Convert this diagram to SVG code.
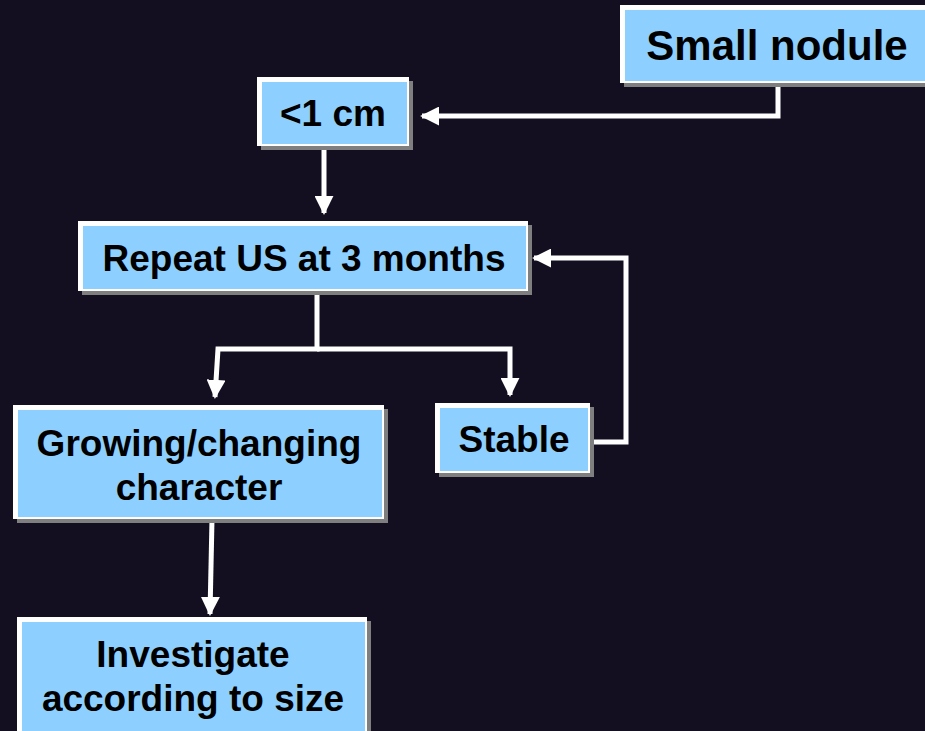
<svg xmlns="http://www.w3.org/2000/svg" width="925" height="731" viewBox="0 0 925 731">
<style>
.shadow{fill:#7f7f7f}
.edge{fill:#ffffff}
.face{fill:#8dd0ff}
.lbl{font-family:"Liberation Sans",Arial,sans-serif;font-weight:bold;font-size:37px;fill:#000;text-anchor:middle}
.conn{fill:none;stroke:#ffffff;stroke-width:5;stroke-linejoin:miter}
</style>
<defs>
<marker id="ah" viewBox="0 0 10 10" refX="9" refY="5" markerWidth="19" markerHeight="19" markerUnits="userSpaceOnUse" orient="auto">
<path d="M0,0 L10,5 L0,10 Z" fill="#ffffff"/>
</marker>
</defs>
<rect width="925" height="731" fill="#130f21"/>

<g id="connectors">
<polyline class="conn" points="778,83 778,116 422,116" marker-end="url(#ah)"/>
<line class="conn" x1="324" y1="146" x2="324" y2="213" marker-end="url(#ah)"/>
<polyline class="conn" points="317,291 317,349 218,349 215,397" marker-end="url(#ah)"/>
<polyline class="conn" points="317,349 510,349 510,395" marker-end="url(#ah)"/>
<polyline class="conn" points="590,442 626,442 626,258 534,258" marker-end="url(#ah)"/>
<line class="conn" x1="212" y1="519" x2="210" y2="614" marker-end="url(#ah)"/>
</g>

<g id="small-nodule">
<rect class="shadow" x="624" y="9" width="310" height="78"/>
<rect class="edge" x="620" y="5" width="310" height="78"/>
<rect class="face" x="625" y="10" width="305" height="71"/>
<text class="lbl" x="777" y="60" style="font-size:42px">Small nodule</text>
</g>

<g id="lt-1cm">
<rect class="shadow" x="261" y="81" width="152" height="69"/>
<rect class="edge" x="257" y="77" width="152" height="69"/>
<rect class="face" x="262" y="82" width="145" height="62"/>
<text class="lbl" x="333" y="126">&lt;1 cm</text>
</g>

<g id="repeat-us">
<rect class="shadow" x="82" y="225" width="450" height="70"/>
<rect class="edge" x="78" y="221" width="450" height="70"/>
<rect class="face" x="83" y="226" width="443" height="63"/>
<text class="lbl" x="304" y="271">Repeat US at 3 months</text>
</g>

<g id="growing">
<rect class="shadow" x="17" y="409" width="371" height="114"/>
<rect class="edge" x="13" y="405" width="371" height="114"/>
<rect class="face" x="18" y="410" width="364" height="107"/>
<text class="lbl" x="199" y="456">Growing/changing</text>
<text class="lbl" x="199" y="500">character</text>
</g>

<g id="stable">
<rect class="shadow" x="439" y="407" width="155" height="70"/>
<rect class="edge" x="435" y="403" width="155" height="70"/>
<rect class="face" x="440" y="408" width="148" height="63"/>
<text class="lbl" x="514" y="452">Stable</text>
</g>

<g id="investigate">
<rect class="shadow" x="21" y="621" width="350" height="130"/>
<rect class="edge" x="17" y="617" width="350" height="130"/>
<rect class="face" x="22" y="622" width="343" height="125"/>
<text class="lbl" x="193" y="667">Investigate</text>
<text class="lbl" x="193" y="711">according to size</text>
</g>
</svg>
